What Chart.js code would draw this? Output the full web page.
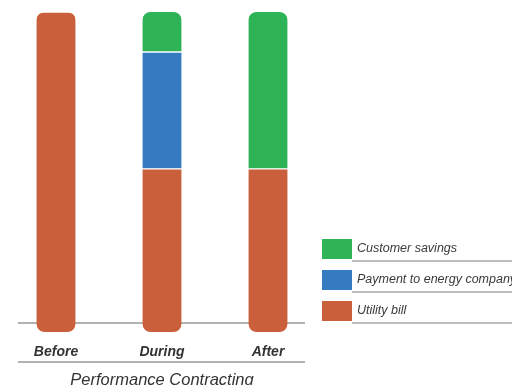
<!DOCTYPE html>
<html>
<head>
<meta charset="utf-8">
<script src="https://cdn.jsdelivr.net/npm/chart.js@4"></script>
<style>
  html, body { margin: 0; padding: 0; background: #fff; }
  #wrap { width: 512px; height: 385px; }
</style>
</head>
<body>
<div id="wrap"><canvas id="chart" width="512" height="385"></canvas></div>
<script>
var phases = ['Before', 'During', 'After'];
var utilityBill = [100, 51, 51];
var energyPayment = [0, 36.5, 0];
var customerSavings = [0, 12.5, 49];

var orange = '#c9603b';
var blue = '#347bc0';
var green = '#2eb457';
var textColor = '#333333';
var lineColor = '#999999';

function nonZero(arr) {
  return arr.map(function(v) { return v > 0 ? v : null; });
}

function topRadius(ctx, above) {
  var i = ctx.dataIndex;
  var r = { topLeft: 0, topRight: 0, bottomLeft: 0, bottomRight: 0 };
  var hasAbove = above.some(function(arr) { return arr[i] > 0; });
  if (!hasAbove) { r.topLeft = 8; r.topRight = 8; }
  return r;
}

// lines under plot and under labels, and the legend on the right
var decorations = {
  id: 'decorations',
  beforeDatasetsDraw: function(chart) {
    var c = chart.ctx;
    c.save();
    c.strokeStyle = lineColor;
    c.lineWidth = 1.5;
    c.beginPath();
    c.moveTo(18, 323); c.lineTo(305, 323);
    c.stroke();
    c.restore();
  },
  afterDraw: function(chart) {
    var c = chart.ctx;
    c.save();
    c.strokeStyle = lineColor;
    c.lineWidth = 1.5;
    c.beginPath();
    c.moveTo(18, 362); c.lineTo(305, 362);
    c.stroke();

    var items = [
      { label: 'Customer savings', color: green, y: 239 },
      { label: 'Payment to energy company', color: blue, y: 270 },
      { label: 'Utility bill', color: orange, y: 301 }
    ];
    c.font = 'italic 12.5px "Liberation Sans", Arial, sans-serif';
    c.textBaseline = 'middle';
    items.forEach(function(it) {
      c.fillStyle = it.color;
      c.fillRect(322, it.y, 30, 20);
      c.fillStyle = '#3a3a3a';
      c.fillText(it.label, 357, it.y + 10);
      c.strokeStyle = '#a8a8a8';
      c.beginPath();
      c.moveTo(352, it.y + 22); c.lineTo(512, it.y + 22);
      c.stroke();
    });
    c.restore();
  }
};

new Chart(document.getElementById('chart').getContext('2d'), {
  type: 'bar',
  data: {
    labels: phases,
    datasets: [
      { label: 'Utility bill', data: nonZero(utilityBill), backgroundColor: orange, borderColor: '#ffffff',
        borderWidth: { top: 1, bottom: 0, left: 0, right: 0 }, borderSkipped: false,
        borderRadius: function(ctx) {
          var r = topRadius(ctx, [energyPayment, customerSavings]);
          r.bottomLeft = 8; r.bottomRight = 8;
          return r;
        } },
      { label: 'Payment to energy company', data: nonZero(energyPayment), backgroundColor: blue, borderColor: '#ffffff',
        borderWidth: { top: 1, bottom: 1, left: 0, right: 0 }, borderSkipped: false,
        borderRadius: function(ctx) { return topRadius(ctx, [customerSavings]); } },
      { label: 'Customer savings', data: nonZero(customerSavings), backgroundColor: green, borderColor: '#ffffff',
        borderWidth: { top: 0, bottom: 1, left: 0, right: 0 }, borderSkipped: false,
        borderRadius: { topLeft: 8, topRight: 8, bottomLeft: 0, bottomRight: 0 } }
    ]
  },
  options: {
    responsive: false,
    animation: false,
    datasets: { bar: { barThickness: 39 } },
    layout: { padding: { left: 3, right: 191, top: 12, bottom: 2 } },
    plugins: { legend: { display: false }, tooltip: { enabled: false } },
    scales: {
      x: {
        stacked: true,
        grid: { display: false, drawTicks: false },
        border: { display: false },
        ticks: { color: textColor, padding: 13, font: { family: '"Liberation Sans", Arial, sans-serif', size: 14, weight: 'bold', style: 'italic', lineHeight: 1 } },
        title: { display: true, text: 'Performance Contracting', color: textColor, padding: { top: 0, bottom: -5.5 },
          font: { family: '"Liberation Sans", Arial, sans-serif', size: 16.5, style: 'italic', lineHeight: 1 } }
      },
      y: {
        stacked: true, display: false, min: 0, max: 100
      }
    }
  },
  plugins: [decorations]
});
</script>
</body>
</html>
